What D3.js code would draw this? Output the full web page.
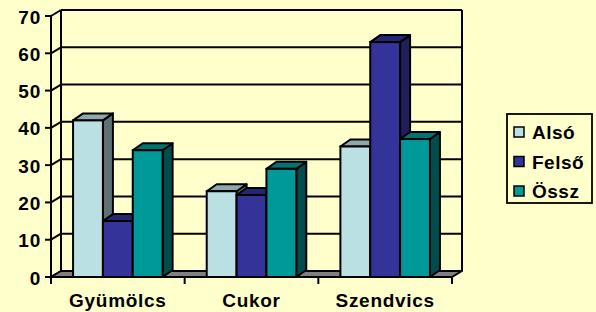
<!DOCTYPE html>
<html><head><meta charset="utf-8">
<script src="https://cdn.jsdelivr.net/npm/d3@7"></script>
<style>html,body{margin:0;padding:0;background:#FFFFCC;}svg{display:block;}</style>
</head><body>
<script>
const categories = ["Gyümölcs", "Cukor", "Szendvics"];
const seriesNames = ["Alsó", "Felső", "Össz"];
const alsoValues = [42, 23, 35];
const felsoValues = [15, 22, 63];
const osszValues = [34, 29, 37];
const yTicks = [0, 10, 20, 30, 40, 50, 60, 70];

const seriesValues = [alsoValues, felsoValues, osszValues];
const colors = [
  {front: "#BBE0E3", top: "#8FA8AB", side: "#5D7274"},
  {front: "#333399", top: "#262673", side: "#1F1F5C"},
  {front: "#009999", top: "#007373", side: "#004D4D"}
];

const W = 596, H = 312;
const FONT = "Liberation Sans, Arial, sans-serif";
const svg = d3.select("body").append("svg").attr("width", W).attr("height", H);
svg.append("rect").attr("width", W).attr("height", H).attr("fill", "#FFFFCC");

const x0 = 51, x1e = 452;
const y = d3.scaleLinear().domain([0, 70]).range([277, 16]);
const x = d3.scaleBand().domain(categories).range([x0, x1e]).padding(0);
const bw = x.bandwidth();
const xs = d3.scaleBand().domain(seriesNames).range([bw * 0.165, bw * 0.835]).padding(0);
const DX = 10, DY = -6;       // wall depth
const BDX = 10, BDY = -7;     // bar depth
const lw = 2;

const g = svg.append("g");
yTicks.forEach(t => {
  g.append("line").attr("x1", x0 + DX).attr("x2", x1e + DX)
    .attr("y1", y(t) + DY).attr("y2", y(t) + DY)
    .attr("stroke", "#000").attr("stroke-width", lw);
  g.append("line").attr("x1", x0).attr("x2", x0 + DX)
    .attr("y1", y(t)).attr("y2", y(t) + DY)
    .attr("stroke", "#000").attr("stroke-width", lw);
  g.append("line").attr("x1", x0 - 6).attr("x2", x0)
    .attr("y1", y(t)).attr("y2", y(t))
    .attr("stroke", "#000").attr("stroke-width", lw);
  g.append("text").attr("x", 41).attr("y", y(t) + 7.5)
    .attr("text-anchor", "end")
    .attr("font-family", FONT).attr("letter-spacing", 0.8)
    .attr("font-weight", "bold").attr("font-size", 19)
    .text(t);
});
g.append("line").attr("x1", x0 + DX).attr("x2", x0 + DX)
  .attr("y1", y(0) + DY).attr("y2", y(70) + DY).attr("stroke", "#000").attr("stroke-width", lw);
g.append("line").attr("x1", x1e + DX).attr("x2", x1e + DX)
  .attr("y1", y(0) + DY).attr("y2", y(70) + DY).attr("stroke", "#000").attr("stroke-width", lw);
g.append("line").attr("x1", x0).attr("x2", x0)
  .attr("y1", y(0) + 1).attr("y2", y(70)).attr("stroke", "#000").attr("stroke-width", lw);
g.append("polygon")
  .attr("points", [[x0, y(0)], [x1e, y(0)], [x1e + DX, y(0) + DY], [x0 + DX, y(0) + DY]].map(p => p.join(",")).join(" "))
  .attr("fill", "#808080").attr("stroke", "#000").attr("stroke-width", lw).attr("stroke-linejoin", "round");
[x0, ...categories.slice(1).map(c => x(c)), x1e].forEach(xx => {
  g.append("line").attr("x1", xx).attr("x2", xx).attr("y1", y(0)).attr("y2", y(0) + 7)
    .attr("stroke", "#000").attr("stroke-width", lw);
});
categories.forEach(c => {
  g.append("text").attr("x", x(c) + bw / 2).attr("y", 307)
    .attr("text-anchor", "middle")
    .attr("font-family", FONT).attr("letter-spacing", 0.7)
    .attr("font-weight", "bold").attr("font-size", 19)
    .text(c);
});

const pts = a => a.map(p => p.join(",")).join(" ");
categories.forEach((c, ci) => {
  seriesNames.forEach((s, si) => {
    const v = seriesValues[si][ci];
    const L = x(c) + xs(s), R = L + xs.bandwidth();
    const T = y(v), B = y(0);
    const col = colors[si];
    g.append("polygon").attr("points", pts([[R, T], [R + BDX, T + BDY], [R + BDX, B + BDY], [R, B]]))
      .attr("fill", col.side).attr("stroke", "#000").attr("stroke-width", lw).attr("stroke-linejoin", "round");
    g.append("polygon").attr("points", pts([[L, T], [L + BDX, T + BDY], [R + BDX, T + BDY], [R, T]]))
      .attr("fill", col.top).attr("stroke", "#000").attr("stroke-width", lw).attr("stroke-linejoin", "round");
    g.append("rect").attr("x", L).attr("y", T).attr("width", R - L).attr("height", B - T)
      .attr("fill", col.front).attr("stroke", "#000").attr("stroke-width", lw);
  });
});

const lg = svg.append("g");
lg.append("rect").attr("x", 507).attr("y", 114).attr("width", 85).attr("height", 89)
  .attr("fill", "none").attr("stroke", "#000").attr("stroke-width", 1.8);
seriesNames.forEach((s, i) => {
  const cy = 132 + i * 29.5;
  lg.append("rect").attr("x", 514).attr("y", cy - 5).attr("width", 10).attr("height", 10)
    .attr("fill", colors[i].front).attr("stroke", "#000").attr("stroke-width", 1.5);
  lg.append("text").attr("x", 532).attr("y", cy + 7)
    .attr("font-family", FONT).attr("letter-spacing", 0.5)
    .attr("font-weight", "bold").attr("font-size", 19)
    .text(s);
});
</script>
</body></html>
